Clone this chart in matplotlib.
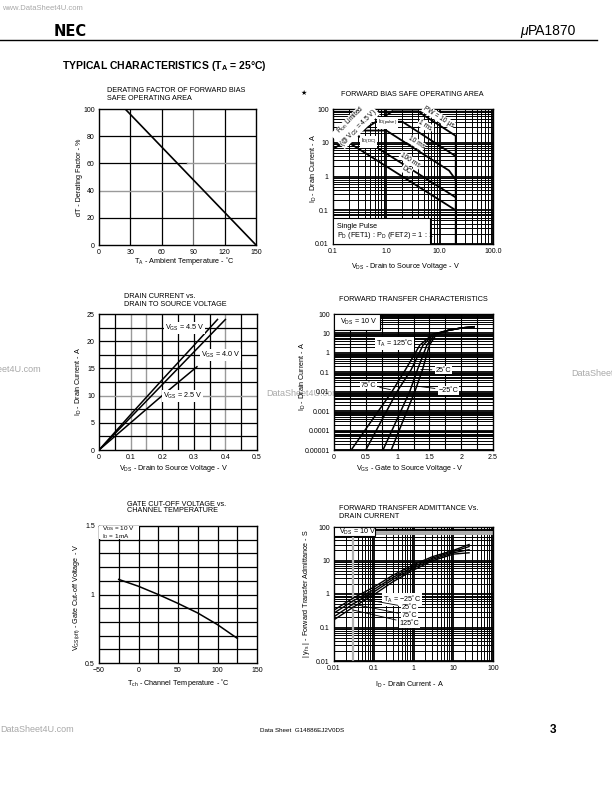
import numpy as np
import matplotlib
matplotlib.use('Agg')
import matplotlib.pyplot as plt
from matplotlib.patches import Rectangle
from matplotlib.ticker import LogLocator, NullFormatter

plt.rcParams['font.family'] = ['Liberation Sans', 'DejaVu Sans']
plt.rcParams['mathtext.fontset'] = 'custom'
plt.rcParams['mathtext.rm'] = 'Liberation Sans'
plt.rcParams['mathtext.it'] = 'Liberation Sans:italic'
plt.rcParams['mathtext.bf'] = 'Liberation Sans:bold'

W, H = 612, 792

# ── Data ──────────────────────────────────────────────────────────
# derating factor
derate_t = [25, 150]
derate_pct = [100, 0]

# forward bias SOA
soa_ron_v, soa_ron_i = [0.1, 1.3], [6.5, 85]
soa_10us_v, soa_10us_i = [1.3, 3.9, 20, 20], [85, 85, 16, 0.01]
soa_1ms_v, soa_1ms_i = [0.72, 2.0, 20], [42, 42, 4]
soa_10ms_v, soa_10ms_i = [0.35, 1.0, 15, 20], [23, 23, 1.5, 0.8]
soa_100ms_v, soa_100ms_i = [0.27, 16, 20], [17.7, 0.3, 0.24]
soa_dc_v, soa_dc_i = [0.175, 20], [11.4, 0.1]

# drain current vs VDS
dc_vds_45, dc_id_45 = [0, 0.1, 0.2, 0.3, 0.375], [0, 6.5, 12.9, 19.2, 24]
dc_vds_40, dc_id_40 = [0, 0.1, 0.2, 0.3, 0.4], [0, 6.0, 12.0, 18.0, 24]
dc_vds_25, dc_id_25 = [0, 0.1, 0.2, 0.31], [0, 5.0, 10.0, 15.3]

# forward transfer characteristics
ft_vgs_125 = [0.27, 0.91, 1.12, 1.35, 1.55, 1.8, 2.0, 2.2]
ft_vgs_75 = [0.50, 0.99, 1.21, 1.40, 1.57, 1.8, 2.0, 2.2]
ft_vgs_25 = [0.77, 1.19, 1.31, 1.46, 1.59, 1.8, 2.0, 2.2]
ft_vgs_m25 = [0.90, 1.27, 1.39, 1.50, 1.61, 1.8, 2.0, 2.2]
ft_id = [1e-5, 1e-2, 0.13, 2.5, 9, 14.5, 19, 22]

# gate cut-off voltage
gc_t = [-25, 0, 25, 50, 75, 100, 125]
gc_v = [1.11, 1.06, 1.0, 0.935, 0.865, 0.78, 0.68]

# forward transfer admittance
yfs_id = [0.01, 0.03, 0.1, 0.3, 1, 3, 10, 25]
yfs_m25 = [0.33, 0.75, 1.6, 3.6, 7.5, 13, 20, 30]
yfs_25 = [0.27, 0.62, 1.35, 3.1, 6.6, 11.8, 18.5, 26]
yfs_75 = [0.21, 0.50, 1.15, 2.7, 5.9, 10.8, 17, 21]
yfs_125 = [0.17, 0.40, 0.95, 2.3, 5.2, 9.8, 15.5, 17]

TICK_FS = 5
LAB_FS = 5.2
GRAY = '#9a9a9a'

fig = plt.figure(figsize=(W / 100, H / 100), dpi=100)


def ftext(x, y, s, **kw):
    return fig.text(x / W, 1 - y / H, s, **kw)


def add_ax(l, t, r, b):
    ax = fig.add_axes([l / W, 1 - b / H, (r - l) / W, (b - t) / H])
    ax.tick_params(length=0, labelsize=TICK_FS, pad=3)
    for sp in ax.spines.values():
        sp.set_linewidth(1.0)
    return ax


def log_grid(ax, axis):
    loc = LogLocator(base=10, subs=np.arange(2, 10), numticks=30)
    a = ax.xaxis if axis == 'x' else ax.yaxis
    a.set_minor_locator(loc)
    a.set_minor_formatter(NullFormatter())
    ax.tick_params(which='minor', length=0)
    ax.grid(True, which='minor', axis=axis, color='k', lw=0.7)
    ax.grid(True, which='major', axis=axis, color='k', lw=1.3)


wbox = dict(fc='white', ec='none', pad=0.6)

# ── header / footer ───────────────────────────────────────────────
ftext(2, 8, 'www.DataSheet4U.com', fontsize=5.5, color='#a8a8a8', va='center')
ftext(54, 31, 'NEC', fontsize=10.5, fontweight='bold', family='DejaVu Sans', va='center')
ftext(520, 31, 'μ', fontsize=10, style='italic', va='center')
ftext(528, 31, 'PA1870', fontsize=10, va='center')
fig.add_artist(plt.Line2D([0, 597 / W], [1 - 40 / H, 1 - 40 / H], color='k', lw=1.0))
ftext(62, 66, r'TYPICAL CHARACTERISTICS (T$_{\mathbf{A}}$ = 25°C)', fontsize=7.5,
      fontweight='bold', va='center')
ftext(0, 730, 'DataSheet4U.com', fontsize=6.5, color='#a8a8a8', va='center')
ftext(260, 731, 'Data Sheet  G14886EJ2V0DS', fontsize=4.5, va='center')
ftext(550, 730, '3', fontsize=8.5, fontweight='bold', va='center')
ftext(41, 370, 'DataSheet4U.com', fontsize=6.5, color='#a8a8a8', va='center', ha='right')
ftext(266, 393, 'DataSheet4U.com', fontsize=6.5, color='#a8a8a8', va='center', zorder=-5)
ftext(571, 374, 'DataSheet4U.com', fontsize=6.5, color='#a8a8a8', va='center')

# ── Chart 1: derating factor ──────────────────────────────────────
ax1 = add_ax(99, 109, 256, 245)
ax1.set_xlim(0, 150)
ax1.set_ylim(0, 100)
ax1.set_xticks(range(0, 151, 30))
ax1.set_yticks(range(0, 101, 20))
for x in [30, 60, 120]:
    ax1.axvline(x, color='k', lw=0.9)
ax1.axvline(90, color='#707070', lw=0.9)
for y in [20, 80]:
    ax1.axhline(y, color='k', lw=0.9)
ax1.axhline(40, color=GRAY, lw=1.0)
ax1.axhline(60, xmax=0.56, color='k', lw=0.9)
ax1.axhline(60, xmin=0.56, color=GRAY, lw=1.0)
ax1.plot(derate_t, derate_pct, color='k', lw=1.2)
ftext(107, 90, 'DERATING FACTOR OF FORWARD BIAS', fontsize=LAB_FS, va='center')
ftext(107, 98, 'SAFE OPERATING AREA', fontsize=LAB_FS, va='center')
ftext(184, 261, r'T$_{\rm A}$ - Ambient Temperature - ˚C', fontsize=LAB_FS, ha='center', va='center')
ftext(79, 177, 'dT - Derating Factor - %', fontsize=LAB_FS, ha='center', va='center', rotation=90)

# ── Chart 2: forward bias SOA ─────────────────────────────────────
ax2 = add_ax(333, 109, 493, 244)
ax2.set_xscale('log')
ax2.set_yscale('log')
ax2.set_xlim(0.1, 100)
ax2.set_ylim(0.01, 100)
log_grid(ax2, 'x')
log_grid(ax2, 'y')
ax2.set_xticks([0.1, 1, 10, 100])
ax2.set_xticklabels(['0.1', '1.0', '10.0', '100.0'])
ax2.set_yticks([0.01, 0.1, 1, 10, 100])
ax2.set_yticklabels(['0.01', '0.1', '1', '10', '100'])
for v, i in [(soa_ron_v, soa_ron_i), (soa_10us_v, soa_10us_i), (soa_1ms_v, soa_1ms_i),
             (soa_10ms_v, soa_10ms_i), (soa_100ms_v, soa_100ms_i), (soa_dc_v, soa_dc_i)]:
    ax2.plot(v, i, color='k', lw=1.3, zorder=4)
ax2.add_patch(Rectangle((0, 0), 0.606, 0.19, transform=ax2.transAxes, fc='white',
                        ec='k', lw=0.8, zorder=5))
ax2.text(0.025, 0.13, 'Single Pulse', transform=ax2.transAxes, fontsize=LAB_FS, zorder=6, va='center')
ax2.text(0.025, 0.06, r'P$_{\rm D}$ (FET1) : P$_{\rm D}$ (FET2) = 1 : 1', transform=ax2.transAxes,
         fontsize=LAB_FS, zorder=6, va='center')
ax2.text(0.255, 36, 'R$_{\\rm on}$ Limited\n(@ V$_{\\rm GS}$ = 4.5 V)', fontsize=4.8, rotation=45,
         ha='center', va='center', bbox=dict(fc='white', ec='none', pad=0.3), zorder=6,
         linespacing=0.95)
ax2.text(0.47, 10.5, r'I$_{\rm D(DC)}$', fontsize=4.3, ha='center', va='center', bbox=wbox, zorder=6)
ax2.text(1.05, 38, r'I$_{\rm D(pulse)}$', fontsize=4.3, ha='center', va='center', bbox=wbox, zorder=6)
ax2.text(9.5, 58, r'PW = 10 μs', fontsize=4.8, rotation=-32, ha='center', va='center', bbox=wbox, zorder=6)
ax2.text(5.4, 32, '1 ms', fontsize=4.8, rotation=-32, ha='center', va='center', bbox=wbox, zorder=6)
ax2.text(3.6, 10, '10 ms', fontsize=4.8, rotation=-32, ha='center', va='center', bbox=wbox, zorder=6)
ax2.text(2.8, 3.0, '100 ms', fontsize=4.8, rotation=-32, ha='center', va='center', bbox=wbox, zorder=6)
ax2.text(2.4, 1.55, 'DC', fontsize=4.8, rotation=-32, ha='center', va='center', bbox=wbox, zorder=6)
ftext(304, 93, '★', fontsize=5, family='DejaVu Sans', ha='center', va='center')
ftext(341, 95, 'FORWARD BIAS SAFE OPERATING AREA', fontsize=LAB_FS, va='center')
ftext(405, 266, r'V$_{\rm DS}$ - Drain to Source Voltage - V', fontsize=LAB_FS, ha='center', va='center')
ftext(314, 168, r'I$_{\rm D}$ - Drain Current - A', fontsize=LAB_FS, ha='center', va='center', rotation=90)

# ── Chart 3: drain current vs VDS ─────────────────────────────────
ax3 = add_ax(99, 314, 257, 450)
ax3.set_xlim(0, 0.5)
ax3.set_ylim(0, 25)
ax3.set_xticks(np.arange(0, 0.51, 0.1))
ax3.set_xticklabels(['0', '0.1', '0.2', '0.3', '0.4', '0.5'])
ax3.set_yticks(range(0, 26, 5))
for x in [0.05, 0.2, 0.25, 0.3, 0.35, 0.45]:
    ax3.axvline(x, color='k', lw=0.9)
for x in [0.1, 0.15, 0.4]:
    ax3.axvline(x, color=GRAY, lw=1.0)
for y in [2.5, 5, 7.5, 12.5, 15, 17.5, 20, 22.5]:
    ax3.axhline(y, color='k', lw=0.9)
ax3.axhline(10, color=GRAY, lw=1.0)
ax3.plot(dc_vds_45, dc_id_45, color='k', lw=1.1)
ax3.plot(dc_vds_40, dc_id_40, color='k', lw=1.1)
ax3.plot(dc_vds_25, dc_id_25, color='k', lw=1.1)
ax3.text(0.27, 22.5, r'V$_{\rm GS}$ = 4.5 V', fontsize=LAB_FS, ha='center', va='center', bbox=wbox)
ax3.text(0.385, 17.5, r'V$_{\rm GS}$ = 4.0 V', fontsize=LAB_FS, ha='center', va='center', bbox=wbox)
ax3.text(0.265, 10, r'V$_{\rm GS}$ = 2.5 V', fontsize=LAB_FS, ha='center', va='center', bbox=wbox)
ftext(124, 296.5, 'DRAIN CURRENT vs.', fontsize=LAB_FS, va='center')
ftext(124, 304.5, 'DRAIN TO SOURCE VOLTAGE', fontsize=LAB_FS, va='center')
ftext(173, 468, r'V$_{\rm DS}$ - Drain to Source Voltage - V', fontsize=LAB_FS, ha='center', va='center')
ftext(79, 381, r'I$_{\rm D}$ - Drain Current - A', fontsize=LAB_FS, ha='center', va='center', rotation=90)

# ── Chart 4: forward transfer characteristics ─────────────────────
ax4 = add_ax(334, 314, 493, 450)
ax4.set_yscale('log')
ax4.set_xlim(0, 2.5)
ax4.set_ylim(1e-5, 100)
log_grid(ax4, 'y')
for x in np.arange(0.25, 2.5, 0.25):
    ax4.axvline(x, color='k', lw=0.8)
ax4.set_xticks([0, 0.5, 1, 1.5, 2, 2.5])
ax4.set_xticklabels(['0', '0.5', '1', '1.5', '2', '2.5'])
ax4.set_yticks([1e-5, 1e-4, 1e-3, 1e-2, 0.1, 1, 10, 100])
ax4.set_yticklabels(['0.00001', '0.0001', '0.001', '0.01', '0.1', '1', '10', '100'])
for v in [ft_vgs_125, ft_vgs_75, ft_vgs_25, ft_vgs_m25]:
    ax4.plot(v, ft_id, color='k', lw=1.1, zorder=4)
ax4.add_patch(Rectangle((0, 0.885), 0.29, 0.115, transform=ax4.transAxes, fc='white',
                        ec='k', lw=0.8, zorder=5))
ax4.text(0.04, 0.94, r'V$_{\rm DS}$ = 10 V', transform=ax4.transAxes, fontsize=LAB_FS,
         va='center', zorder=6)
arrow = dict(arrowstyle='-', color='k', lw=0.6)
ax4.annotate(r'T$_{\rm A}$ = 125˚C', xy=(1.05, 0.7), xytext=(0.95, 2.9), fontsize=LAB_FS,
             ha='center', va='center', bbox=wbox, arrowprops=arrow, zorder=6)
ax4.annotate('75˚C', xy=(0.93, 0.012), xytext=(0.54, 0.022), fontsize=LAB_FS,
             ha='center', va='center', bbox=wbox, arrowprops=arrow, zorder=6)
ax4.annotate('25˚C', xy=(1.32, 0.14), xytext=(1.72, 0.13), fontsize=LAB_FS,
             ha='center', va='center', bbox=wbox, arrowprops=arrow, zorder=6)
ax4.annotate('−25˚C', xy=(1.27, 0.02), xytext=(1.8, 0.012), fontsize=LAB_FS,
             ha='center', va='center', bbox=wbox, arrowprops=arrow, zorder=6)
ftext(339, 299, 'FORWARD TRANSFER CHARACTERISTICS', fontsize=LAB_FS, va='center')
ftext(410, 468, r'V$_{\rm GS}$ - Gate to Source Voltage - V', fontsize=LAB_FS, ha='center', va='center')
ftext(303, 376, r'I$_{\rm D}$ - Drain Current - A', fontsize=LAB_FS, ha='center', va='center', rotation=90)

# ── Chart 5: gate cut-off voltage ─────────────────────────────────
ax5 = add_ax(99, 526, 257, 663)
ax5.set_xlim(-50, 150)
ax5.set_ylim(0.5, 1.5)
ax5.set_xticks([-50, 0, 50, 100, 150])
ax5.set_xticklabels(['−50', '0', '50', '100', '150'])
ax5.set_yticks([0.5, 1, 1.5])
ax5.set_yticklabels(['0.5', '1', '1.5'])
for x in np.arange(-25, 150, 25):
    ax5.axvline(x, color='k', lw=0.9)
for y in np.arange(0.6, 1.45, 0.1):
    ax5.axhline(y, color='k', lw=0.9)
ax5.plot(gc_t, gc_v, color='k', lw=1.1)
ax5.add_patch(Rectangle((0, 0.905), 0.25, 0.095, transform=ax5.transAxes, fc='white',
                        ec='none', zorder=5))
ax5.text(0.02, 0.953, 'V$_{\\rm DS}$ = 10 V\nI$_{\\rm D}$ = 1mA', transform=ax5.transAxes,
         fontsize=4.6, va='center', zorder=6, linespacing=0.95)
ftext(127, 504.5, 'GATE CUT-OFF VOLTAGE vs.', fontsize=LAB_FS, va='center')
ftext(127, 511, 'CHANNEL TEMPERATURE', fontsize=LAB_FS, va='center')
ftext(178, 683, r'T$_{\rm ch}$ - Channel Temperature - ˚C', fontsize=LAB_FS, ha='center', va='center')
ftext(77, 597, r'V$_{\rm GS(off)}$ - Gate Cut-off Voltage - V', fontsize=LAB_FS, ha='center',
      va='center', rotation=90)

# ── Chart 6: forward transfer admittance ──────────────────────────
ax6 = add_ax(334, 527, 493, 661)
ax6.set_xscale('log')
ax6.set_yscale('log')
ax6.set_xlim(0.01, 100)
ax6.set_ylim(0.01, 100)
log_grid(ax6, 'x')
log_grid(ax6, 'y')
ax6.axvline(0.03, color='#b0b0b0', lw=1.6, zorder=2.5)
ax6.hlines([60, 70], 0.1, 100, color='#b0b0b0', lw=1.4, zorder=2.5)
ax6.set_xticks([0.01, 0.1, 1, 10, 100])
ax6.set_xticklabels(['0.01', '0.1', '1', '10', '100'])
ax6.set_yticks([0.01, 0.1, 1, 10, 100])
ax6.set_yticklabels(['0.01', '0.1', '1', '10', '100'])
for y in [yfs_m25, yfs_25, yfs_75, yfs_125]:
    ax6.plot(yfs_id, y, color='k', lw=1.0, zorder=4)
ax6.add_patch(Rectangle((0, 0.93), 0.26, 0.07, transform=ax6.transAxes, fc='white',
                        ec='k', lw=0.8, zorder=5))
ax6.text(0.03, 0.965, r'V$_{\rm DS}$ = 10 V', transform=ax6.transAxes, fontsize=LAB_FS,
         va='center', zorder=6)
ax6.annotate(r'T$_{\rm A}$ = −25˚C', xy=(0.045, 0.95), xytext=(0.17, 0.7), fontsize=LAB_FS,
             ha='left', va='center', bbox=wbox, arrowprops=arrow, zorder=6)
ax6.annotate('25˚C', xy=(0.04, 0.75), xytext=(0.5, 0.4), fontsize=LAB_FS,
             ha='left', va='center', bbox=wbox, arrowprops=arrow, zorder=6)
ax6.annotate('75˚C', xy=(0.03, 0.5), xytext=(0.5, 0.23), fontsize=LAB_FS,
             ha='left', va='center', bbox=wbox, arrowprops=arrow, zorder=6)
ax6.annotate('125˚C', xy=(0.025, 0.35), xytext=(0.45, 0.135), fontsize=LAB_FS,
             ha='left', va='center', bbox=wbox, arrowprops=arrow, zorder=6)
ftext(339, 509, 'FORWARD TRANSFER ADMITTANCE Vs.', fontsize=LAB_FS, va='center')
ftext(339, 516, 'DRAIN CURRENT', fontsize=LAB_FS, va='center')
ftext(410, 685, r'I$_{\rm D}$ - Drain Current - A', fontsize=LAB_FS, ha='center', va='center')
ftext(307, 594, r'| y$_{\rm fs}$ | - Forward Transfer Admittance - S', fontsize=LAB_FS,
      ha='center', va='center', rotation=90)

fig.savefig('out.png', dpi=100, facecolor='white')
